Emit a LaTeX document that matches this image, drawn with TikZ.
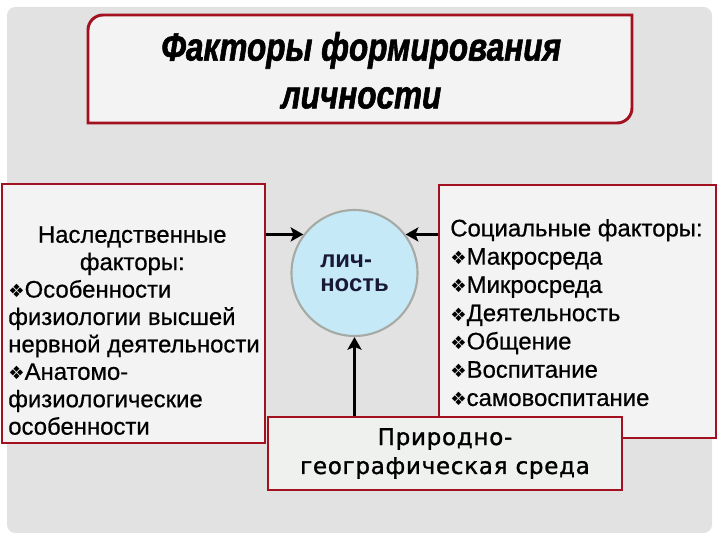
\documentclass[tikz,border=0pt]{standalone}
\usepackage{fontspec}
\setmainfont{Liberation Sans}
\newfontfamily\ttlfont[FakeStretch=0.8, FakeBold=1.5]{Liberation Sans}
\newfontfamily\boxfont[FakeBold=0.6]{Liberation Sans}
\newfontfamily\symfont{DejaVu Sans}
\newfontfamily\geofont[LetterSpace=3, FakeBold=1.2]{DejaVu Sans}
\usepackage{tikz}
\usetikzlibrary{arrows.meta,calc}
\definecolor{figpanel}{RGB}{226,226,226}
\definecolor{figbox}{RGB}{243,243,243}
\definecolor{figgeo}{RGB}{239,241,239}
\definecolor{figred}{RGB}{163,16,32}
\definecolor{figcirc}{RGB}{198,233,248}
\definecolor{figring}{RGB}{165,170,165}
\definecolor{figtext}{RGB}{25,25,55}
\tikzset{
  redbox/.style ={draw=figred, line width=1.5pt, fill=figbox, inner sep=0pt},
  ttl/.style    ={font=\ttlfont\bfseries\itshape\fontsize{28}{34}\selectfont, align=center, inner sep=0pt},
  txt/.style    ={font=\boxfont\fontsize{17}{19.5}\selectfont, align=left, inner sep=0pt},
  ptr/.style    ={draw=black, line width=2.4pt, -{Stealth[length=9pt,width=10pt,inset=2pt]}},
}
\newcommand{\dmark}{{\symfont\fontsize{13}{13}\selectfont ❖}}
\begin{document}
\begin{tikzpicture}
  \useasboundingbox (0,0) rectangle (18,13.5);
  \fill[white] (0,0) rectangle (18,13.5);
  \fill[figpanel,rounded corners=6pt] (0.175,0.175) rectangle (17.8,13.325);
  % title
  \filldraw[redbox, line width=2.1pt] (2.2,10.425) -- (2.2,12.75)
    arc[start angle=180, end angle=90, radius=0.375] -- (15.8,13.125) -- (15.8,10.8)
    arc[start angle=0, end angle=-90, radius=0.375] -- cycle;
  \node[ttl] (title) at (9.03,11.74) {Факторы формирования\\личности};
  % side boxes
  \node[redbox, minimum width=6.575cm, minimum height=6.475cm] (hered) at (3.3375,5.6625) {};
  \node[txt, anchor=north west] (heredtxt) at (0.2,7.85)
    {\makebox[6.2cm]{Наследственные}\\
     \makebox[6.2cm]{факторы:}\\
     \dmark Особенности\\
     физиологии высшей\\
     нервной деятельности\\
     \dmark Анатомо-\\
     физиологические\\
     особенности};
  \node[redbox, minimum width=6.925cm, minimum height=6.325cm] (social) at (14.4375,5.7125) {};
  \node[txt, font=\boxfont\fontsize{17}{20.1}\selectfont, anchor=north west] (socialtxt) at (11.25,8.03)
    {Социальные факторы:\\
     \dmark Макросреда\\
     \dmark Микросреда\\
     \dmark Деятельность\\
     \dmark Общение\\
     \dmark Воспитание\\
     \dmark самовоспитание};
  % centre
  \node[circle, draw=figring, line width=1.5pt, fill=figcirc, minimum size=3.15cm, inner sep=0pt,
        font=\bfseries\fontsize{17}{17}\selectfont, text=figtext, align=left] (pers) at (8.8625,6.675)
    {лич-\\ность};
  \node[redbox, line width=1.6pt, fill=figgeo, minimum width=8.85cm, minimum height=1.825cm,
        font=\geofont\fontsize{16.4}{20.6}\selectfont, align=center] (nature) at (11.125,2.1625)
    {Природно-\\географическая среда};
  % arrows
  \draw[ptr] (hered.east |- pers.143) -- (pers.143);
  \draw[ptr] (social.west |- pers.37) -- (pers.37);
  \draw[ptr] (nature.north -| pers.south) -- (pers.south);
\end{tikzpicture}
\end{document}
